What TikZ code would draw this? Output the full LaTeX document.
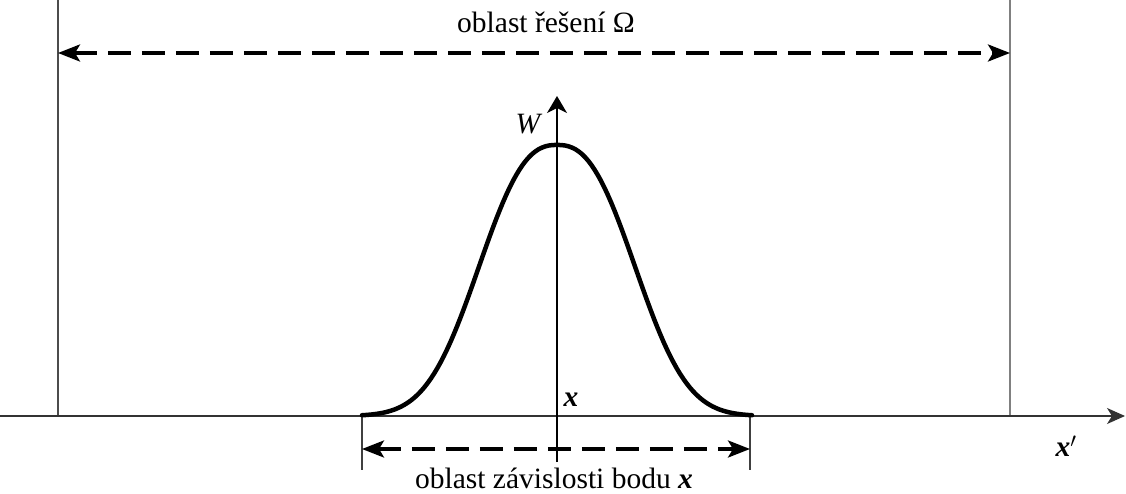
\documentclass[tikz,border=0pt]{standalone}
\usepackage{fontspec}
\setmainfont{Liberation Serif}
\usetikzlibrary{arrows.meta}
\begin{document}
\begin{tikzpicture}[x=1pt,y=-1pt,
  thin line/.style={line width=1.2pt, draw=black!75},
  dimarrow/.style={line width=3.4pt, dash pattern=on 23pt off 11pt, {Stealth[length=22pt,width=17pt,inset=5pt]}-{Stealth[length=22pt,width=17pt,inset=5pt]}},
  axisarrow/.style={line width=1.2pt, -{Stealth[length=18pt,width=16pt,inset=5pt]}},
  lbl/.style={font=\fontsize{29.5}{33}\selectfont, inner sep=0pt}]
\useasboundingbox (0,0) rectangle (1126,494);
% coordinates
\coordinate (axL) at (0,416);
\coordinate (axR) at (1125,416);
\coordinate (vB) at (557,462);
\coordinate (vT) at (557,96);
\coordinate (LT) at (58,0);
\coordinate (LB) at (58,416);
\coordinate (RT) at (1010,0);
\coordinate (RB) at (1010,416);
\coordinate (dL) at (58,53);
\coordinate (dR) at (1010,53);
\coordinate (tL1) at (362,414);
\coordinate (tL2) at (362,470);
\coordinate (tR1) at (750,414);
\coordinate (tR2) at (750,470);
\coordinate (bL) at (362,449);
\coordinate (bR) at (750,449);
% frame lines
\draw[thin line, draw=black!70] (LT) -- (LB);
\draw[thin line, draw=black!50] (RT) -- (RB);
\draw[thin line] (tL1) -- (tL2);
\draw[thin line] (tR1) -- (tR2);
% axes
\draw[axisarrow, draw=black!80] (axL) -- (axR);
\draw[line width=1.2pt, -{Stealth[length=17pt,width=20pt,inset=5pt]}] (vB) -- (vT);
% curve
\draw[line width=4.5pt, line cap=round] plot[domain=-195:195, samples=120]
  ({557+\x},{416-271*exp(-pow(abs(\x)/96,2.5))});
% dimension arrows
\draw[dimarrow] (dL) -- (dR);
\draw[dimarrow] (bL) -- (bR);
% labels
\node[lbl, anchor=base] (omega) at (546,33) {oblast řešení Ω};
\node[lbl, anchor=base] (dep) at (554,488) {oblast závislosti bodu \textbf{\textit{x}}};
\node[lbl] (W) at (529,124) {\textit{W}};
\node[lbl] (xpt) at (571,400) {\textbf{\textit{x}}};
\node[lbl] (xp) at (1066,446) {\textbf{\textit{x}}$'$};
\end{tikzpicture}
\end{document}
